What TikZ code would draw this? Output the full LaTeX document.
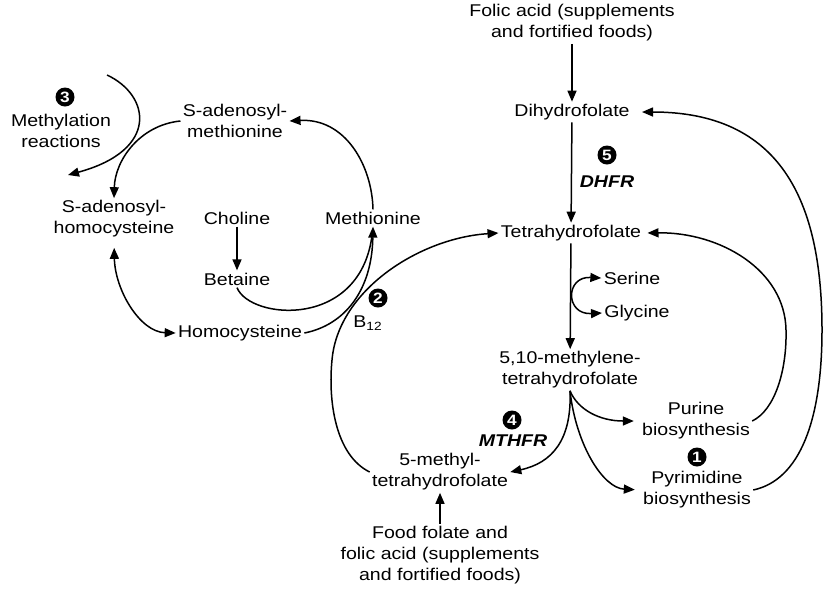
\documentclass[tikz,border=0pt]{standalone}
\usepackage{fontspec}
\setmainfont{Liberation Sans}[FakeStretch = 1.15]
\usetikzlibrary{arrows.meta,positioning}

\begin{document}
\begin{tikzpicture}[
		x = 0.5pt, y = -0.5pt,
		every node/.style = {align = center, inner sep = 1pt, font = \fontsize{8.5pt}{10.5pt}\selectfont},
		flow/.style = {-{Triangle[length = 5.5pt, width = 4.5pt]}, line width = 0.75pt},
		flowboth/.style = {{Triangle[length = 5.5pt, width = 4.5pt]}-{Triangle[length = 5.5pt, width = 4.5pt]}, line width = 0.75pt},
		badge/.style = {circle, fill = black, text = white, inner sep = 0pt, minimum size = 9.5pt, font = \fontsize{7.5pt}{8pt}\selectfont\bfseries},
		enzyme/.style = {font = \fontsize{8.5pt}{10.5pt}\selectfont\bfseries\itshape}
		]
\useasboundingbox (0,0) rectangle (824,591);

% folate side
\node (folic) at (572,23) {Folic acid (supplements\\and fortified foods)};
\node (dhf) at (572,112) {Dihydrofolate};
\node (thf) at (571,233) {Tetrahydrofolate};
\node (ser) at (632,278) {Serine};
\node (gly) at (637,313) {Glycine};
\node (mthf) at (570,370) {5,10-methylene-\\tetrahydrofolate};
\node (pur) at (696,421) {Purine\\biosynthesis};
\node (pyr) at (697,490) {Pyrimidine\\biosynthesis};
\node (me) at (440,472) {5-methyl-\\tetrahydrofolate};
\node (food) at (440,555) {Food folate and\\folic acid (supplements\\and fortified foods)};

\node[badge] (b5) at (607,155) {5};
\node[enzyme] (dhfr) at (607,182) {DHFR};
\node[badge] (b1) at (697,457) {1};
\node[badge] (b4) at (512,420) {4};
\node[enzyme] (mthfr) at (513,441) {MTHFR};

% methionine side
\node (sam) at (235,121) {S-adenosyl-\\methionine};
\node (met) at (373,218) {Methionine};
\node (sah) at (114,219) {S-adenosyl-\\homocysteine};
\node (cho) at (237,218) {Choline};
\node (bet) at (237,279) {Betaine};
\node (hcy) at (240,333) {Homocysteine};
\node (meth) at (61,131) {Methylation\\reactions};
\node[badge] (b3) at (65,97) {3};
\node[badge] (b2) at (378,298) {2};
\node (b12) at (368,323) {B\textsubscript{12}};
\coordinate (mstart) at (107,75);
\coordinate (mend) at (68,175);

% folate arrows
\draw[flow] (folic.south -| dhf.north) -- (dhf.north);
\draw[flow] (dhf) -- (thf);
\draw[flow] (thf) -- (mthf);
\draw[flowboth] (ser.west) .. controls (565,276) and (565,315) .. (gly.west);
\draw[flow, shorten > = 3pt] (mthf.south) .. controls (578,410) and (600,421) .. (pur.west);
\draw[flow, shorten > = 3pt] (mthf.south) .. controls (576,445) and (603,488) .. (pyr.west);
\draw[flow] (mthf.south) .. controls (572,440) and (552,463) .. (me.east);
\draw[flow] (food) -- (me);
\draw[flow, shorten > = 2pt] (pur.east) .. controls (775,410) and (787,370) .. (786,330)
	.. controls (785,270) and (720,232) .. (thf.east);
\draw[flow, shorten > = 5pt] (pyr.east) .. controls (800,480) and (822,420) .. (822,330)
	.. controls (822,200) and (780,112) .. (dhf.east);
\draw[flow] (me.west) .. controls (335,455) and (328,400) .. (332,360)
	.. controls (338,290) and (420,238) .. (thf.west);

% methionine arrows
\draw[flow] (met.north) .. controls (372,165) and (345,118) .. (sam.east);
\draw[flow] (sam.west) .. controls (140,125) and (115,160) .. (sah.north);
\draw[flow] (mstart) .. controls (150,95) and (160,150) .. (mend);
\draw[flowboth, shorten < = 4pt] (sah.south) .. controls (115,290) and (140,332) .. (hcy.west);
\draw[flow] (cho) -- (bet);
\draw[flow] (hcy.east) .. controls (345,325) and (372,290) .. (met.south);
\draw[line width = 0.75pt, shorten > = 3pt] (bet.south) .. controls (250,320) and (362,330) .. (met.south);

\end{tikzpicture}
\end{document}
